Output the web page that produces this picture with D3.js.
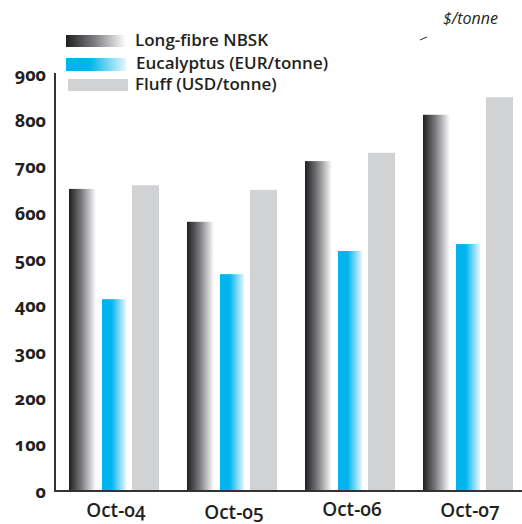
<!DOCTYPE html>
<html>
<head>
<meta charset="utf-8">
<script src="https://cdn.jsdelivr.net/npm/d3@7/dist/d3.min.js"></script>
<style>
  html, body { margin: 0; padding: 0; background: #fff; }
  svg { display: block; }
  text { font-family: "Open Sans", "Noto Sans", sans-serif; fill: #231f20; font-variant-numeric: oldstyle-nums; }
</style>
</head>
<body>
<svg id="chart" width="522" height="524"></svg>
<script>
// Pulp prices by October of each year
const categories = ["Oct-04", "Oct-05", "Oct-06", "Oct-07"];
const seriesNames = ["Long-fibre NBSK", "Eucalyptus (EUR/tonne)", "Fluff (USD/tonne)"];
const nbsk = [652, 581, 712, 812];
const eucalyptus = [414, 468, 518, 533];
const fluff = [660, 650, 730, 850];
const yTicks = [0, 100, 200, 300, 400, 500, 600, 700, 800, 900];

const seriesValues = [nbsk, eucalyptus, fluff];
const rows = categories.map((c, i) => ({
  cat: c,
  vals: seriesNames.map((s, j) => ({ key: s, idx: j, value: seriesValues[j][i] }))
}));

const svg = d3.select("#chart");

const axisX = 55, baseY = 491, topY = 74;

const y = d3.scaleLinear().domain([0, 900]).range([baseY, topY]);
const x0 = d3.scaleBand().domain(categories).range([axisX, 527])
  .paddingInner(28 / 118).paddingOuter(14 / 118);
const x1 = d3.scaleBand().domain(seriesNames).range([0, x0.bandwidth()])
  .paddingInner(4.5 / 31.5).paddingOuter(0);

// Gradients for the bar fills
const defs = svg.append("defs");
const gDark = defs.append("linearGradient").attr("id", "gradDark")
  .attr("x1", "0%").attr("x2", "100%").attr("y1", "0%").attr("y2", "0%");
gDark.append("stop").attr("offset", "0%").attr("stop-color", "#1f1f21");
gDark.append("stop").attr("offset", "45%").attr("stop-color", "#77787b");
gDark.append("stop").attr("offset", "100%").attr("stop-color", "#ffffff");

const gBlue = defs.append("linearGradient").attr("id", "gradBlue")
  .attr("x1", "0%").attr("x2", "100%").attr("y1", "0%").attr("y2", "0%");
gBlue.append("stop").attr("offset", "0%").attr("stop-color", "#00b5ed");
gBlue.append("stop").attr("offset", "40%").attr("stop-color", "#00b5ed");
gBlue.append("stop").attr("offset", "100%").attr("stop-color", "#e6f6fd");

const fills = ["url(#gradDark)", "url(#gradBlue)", "#d1d2d4"];
const insets = [0, 1.5, 0];

// Bars
const groups = svg.append("g").selectAll("g").data(rows).join("g")
  .attr("transform", d => `translate(${x0(d.cat)},0)`);
groups.selectAll("rect").data(d => d.vals).join("rect")
  .attr("x", d => x1(d.key) + insets[d.idx])
  .attr("width", d => x1.bandwidth() - 2 * insets[d.idx])
  .attr("y", d => y(d.value))
  .attr("height", d => y(0) - y(d.value))
  .attr("fill", d => fills[d.idx]);

// Y axis
const yAxis = d3.axisLeft(y).tickValues(yTicks).tickSize(0).tickPadding(9);
const yg = svg.append("g").attr("transform", `translate(${axisX},0)`).call(yAxis);
yg.select(".domain").remove();
yg.selectAll("text").style("font-size", "18px").style("font-weight", "700")
  .attr("dy", "0.34em");
svg.append("line").attr("x1", axisX).attr("x2", axisX).attr("y1", 73).attr("y2", baseY + 1)
  .attr("stroke", "#333").attr("stroke-width", 2);

// X axis: labels sit on slightly staggered baselines
const labelBaselines = [517, 519, 516, 517];
const xAxis = d3.axisBottom(x0).tickSize(0);
const xg = svg.append("g").attr("transform", `translate(0,${baseY})`).call(xAxis);
xg.select(".domain").remove();
xg.selectAll("text").style("font-size", "19px").style("font-weight", "600")
  .attr("dx", "0.1em")
  .attr("dy", null)
  .attr("y", (d, i) => labelBaselines[i] - baseY);
svg.append("line").attr("x1", axisX - 1).attr("x2", 522).attr("y1", baseY).attr("y2", baseY)
  .attr("stroke", "#333").attr("stroke-width", 2);

// Legend
const legend = svg.append("g");
const legendRows = [
  { sx: 66, sy: 35, sh: 12, tx: 135, ty: 46 },
  { sx: 66, sy: 58, sh: 13, tx: 136, ty: 69 },
  { sx: 68, sy: 79, sh: 12, tx: 135, ty: 90 }
];
seriesNames.forEach((name, i) => {
  const r = legendRows[i];
  legend.append("rect").attr("x", r.sx).attr("y", r.sy).attr("width", 60).attr("height", r.sh)
    .attr("fill", fills[i]);
  legend.append("text").attr("x", r.tx).attr("y", r.ty).text(name)
    .style("font-size", "17px").style("font-weight", "600");
});

// Unit label
svg.append("text").attr("x", 498).attr("y", 24).attr("text-anchor", "end")
  .text("$/tonne").style("font-size", "16px").style("font-style", "italic");
svg.append("line").attr("x1", 420).attr("y1", 40).attr("x2", 427).attr("y2", 37)
  .attr("stroke", "#333").attr("stroke-width", 1);
</script>
</body>
</html>
